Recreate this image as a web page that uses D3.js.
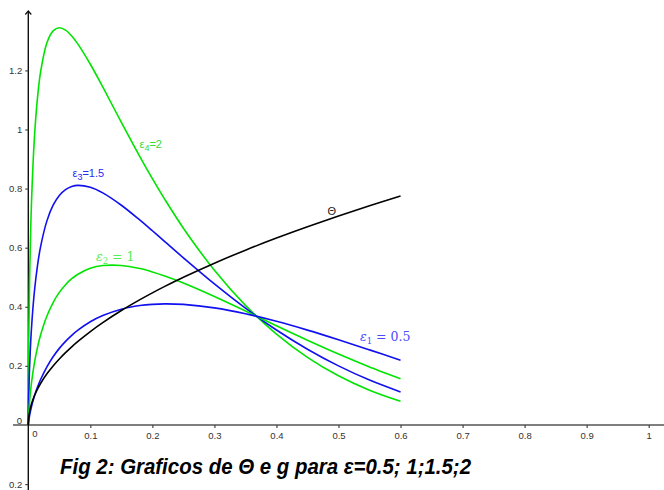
<!DOCTYPE html>
<html>
<head>
<meta charset="utf-8">
<script src="https://cdn.jsdelivr.net/npm/d3@7"></script>
<style>
  html, body { margin: 0; padding: 0; background: #fff; }
  svg { display: block; }
</style>
</head>
<body>
<svg id="chart" width="664" height="490"></svg>
<script>
// ---- data ----
const xs = [0, 0.0001, 0.0005, 0.001, 0.002, 0.005, 0.01, 0.015, 0.02, 0.03, 0.04, 0.05, 0.06, 0.07, 0.08,
            0.1, 0.12, 0.15, 0.18, 0.2, 0.22, 0.25, 0.3, 0.35, 0.4, 0.45, 0.5, 0.55, 0.6];
const gEps05 = [0, 0.0028, 0.0105, 0.0182, 0.0310, 0.0610, 0.0988, 0.1291, 0.1548, 0.1970, 0.2310, 0.2593, 0.2831, 0.3036, 0.3211,
            0.3494, 0.3705, 0.3920, 0.4042, 0.4083, 0.4099, 0.4081, 0.3963, 0.3765, 0.3508, 0.3211, 0.2885, 0.2542, 0.2190];
const gEps1  = [0, 0.0085, 0.0289, 0.0477, 0.0772, 0.1404, 0.2121, 0.2646, 0.3061, 0.3689, 0.4145, 0.4487, 0.4749, 0.4950, 0.5103,
            0.5302, 0.5395, 0.5399, 0.5293, 0.5181, 0.5044, 0.4805, 0.4349, 0.3857, 0.3358, 0.2869, 0.2402, 0.1966, 0.1566];
const gEps15 = [0, 0.0257, 0.0796, 0.1254, 0.1925, 0.3232, 0.4552, 0.5422, 0.6054, 0.6908, 0.7437, 0.7766, 0.7966, 0.8072, 0.8110,
            0.8045, 0.7856, 0.7437, 0.6931, 0.6573, 0.6206, 0.5657, 0.4772, 0.3952, 0.3214, 0.2564, 0.2000, 0.1520, 0.1119];
const gEps2  = [0, 0.0781, 0.2196, 0.3296, 0.4800, 0.7437, 0.9767, 1.1111, 1.1974, 1.2935, 1.3340, 1.3442, 1.3361, 1.3165, 1.2889,
            1.2208, 1.1439, 1.0242, 0.9076, 0.8337, 0.7636, 0.6660, 0.5236, 0.4049, 0.3077, 0.2291, 0.1665, 0.1175, 0.0800];
const theta  = [0, 0.0100, 0.0224, 0.0316, 0.0447, 0.0707, 0.1000, 0.1225, 0.1414, 0.1732, 0.2000, 0.2236, 0.2449, 0.2646, 0.2828,
            0.3162, 0.3464, 0.3873, 0.4243, 0.4472, 0.4690, 0.5000, 0.5477, 0.5916, 0.6325, 0.6708, 0.7071, 0.7416, 0.7746];

const xTicks = [0.1, 0.2, 0.3, 0.4, 0.5, 0.6, 0.7, 0.8, 0.9, 1];
const yTicks = [-0.2, 0.2, 0.4, 0.6, 0.8, 1, 1.2];
const yTickLabels = ["0.2", "0.2", "0.4", "0.6", "0.8", "1", "1.2"];
const captionText = "Fig 2: Graficos de Θ e g para ε=0.5; 1;1.5;2";

// ---- drawing ----
const svg = d3.select("#chart");
const W = 664, H = 490;
const x = d3.scaleLinear().domain([0, 1]).range([28.3, 648.7]);
const y = d3.scaleLinear().domain([-0.2, 1.4]).range([484.1, 11.3]);

const labelFont = "Liberation Sans, Arial, sans-serif";

// axes lines
svg.append("line").attr("x1", 13).attr("x2", W).attr("y1", y(0)).attr("y2", y(0))
  .attr("stroke", "#555").attr("stroke-width", 1.4);
svg.append("line").attr("x1", x(0)).attr("x2", x(0)).attr("y1", 11).attr("y2", H)
  .attr("stroke", "#111").attr("stroke-width", 1.4);
svg.append("path")
  .attr("d", `M${x(0)-3},${14.5} L${x(0)},${11} L${x(0)+3},${14.5}`)
  .attr("fill", "none").attr("stroke", "#111").attr("stroke-width", 1.2);

// x axis ticks
const xAxis = d3.axisBottom(x).tickValues(xTicks).tickFormat(d3.format("~g")).tickSize(3).tickPadding(4);
const gx = svg.append("g").attr("transform", `translate(0,${y(0)})`).call(xAxis);
gx.select(".domain").remove();
gx.selectAll(".tick line").attr("stroke", "#444").attr("stroke-width", 1.2);
gx.selectAll(".tick text").attr("fill", "#333").style("font-family", labelFont).style("font-size", "9.5px");
svg.append("text").attr("x", x(0) + 6.5).attr("y", y(0) + 12).attr("text-anchor", "middle")
  .attr("fill", "#333").style("font-family", labelFont).style("font-size", "9.5px").text("0");

// y axis ticks
const yAxis = d3.axisLeft(y).tickValues(yTicks).tickFormat((d, i) => yTickLabels[i]).tickSize(3).tickPadding(3);
const gy = svg.append("g").attr("transform", `translate(${x(0)},0)`).call(yAxis);
gy.select(".domain").remove();
gy.selectAll(".tick line").attr("stroke", "#444").attr("stroke-width", 1.2);
gy.selectAll(".tick text").attr("fill", "#333").style("font-family", labelFont).style("font-size", "9.5px");
svg.append("text").attr("x", 22).attr("y", y(0) - 1.5).attr("text-anchor", "end")
  .attr("fill", "#333").style("font-family", labelFont).style("font-size", "9.5px").text("0");

// curves
const line = d3.line().x(d => x(d[0])).y(d => y(d[1])).curve(d3.curveCatmullRom.alpha(0.5));
const series = [
  { vals: gEps2,  color: "#00e400" },
  { vals: gEps15, color: "#1010f0" },
  { vals: gEps1,  color: "#00e400" },
  { vals: gEps05, color: "#1010f0" },
  { vals: theta,  color: "#000000" }
];
svg.selectAll("path.curve").data(series).enter().append("path")
  .attr("class", "curve")
  .attr("d", s => line(xs.map((v, i) => [v, s.vals[i]])))
  .attr("fill", "none").attr("stroke", s => s.color).attr("stroke-width", 1.6)
  .attr("stroke-linejoin", "round");

// curve labels
function sansLabel(px, py, sub, rest, color) {
  const t = svg.append("text").attr("x", px).attr("y", py).attr("fill", color)
    .style("font-family", labelFont).style("font-size", "11px");
  t.append("tspan").text("ε");
  t.append("tspan").attr("dy", 3).style("font-size", "9px").text(sub);
  t.append("tspan").attr("dy", -3).text(rest);
}
sansLabel(139.5, 147.5, "4", "=2", "#33dd33");
sansLabel(72.5, 177, "3", "=1.5", "#2a2af5");

function serifLabel(px, py, sub, rest, color) {
  const t = svg.append("text").attr("x", px).attr("y", py).attr("fill", color)
    .style("font-family", "DejaVu Serif, Liberation Serif, serif").style("font-size", "12.5px");
  t.append("tspan").style("font-style", "italic").text("ε");
  t.append("tspan").attr("dy", 2.5).style("font-size", "8.5px").text(sub);
  t.append("tspan").attr("dy", -2.5).text(rest);
}
serifLabel(96, 261, "2", " = 1", "#55ee55");
serifLabel(360, 341, "1", " = 0.5", "#4a4aff");

svg.append("text").attr("x", 331.7).attr("y", 214.5).attr("text-anchor", "middle")
  .attr("fill", "#222").style("font-family", labelFont).style("font-size", "11px").text("Θ");

// caption
svg.append("text").attr("x", 60).attr("y", 474)
  .attr("fill", "#000").style("font-family", labelFont).style("font-size", "22px")
  .style("font-weight", "bold").style("font-style", "italic")
  .attr("textLength", 411).attr("lengthAdjust", "spacingAndGlyphs")
  .text(captionText);
</script>
</body>
</html>
